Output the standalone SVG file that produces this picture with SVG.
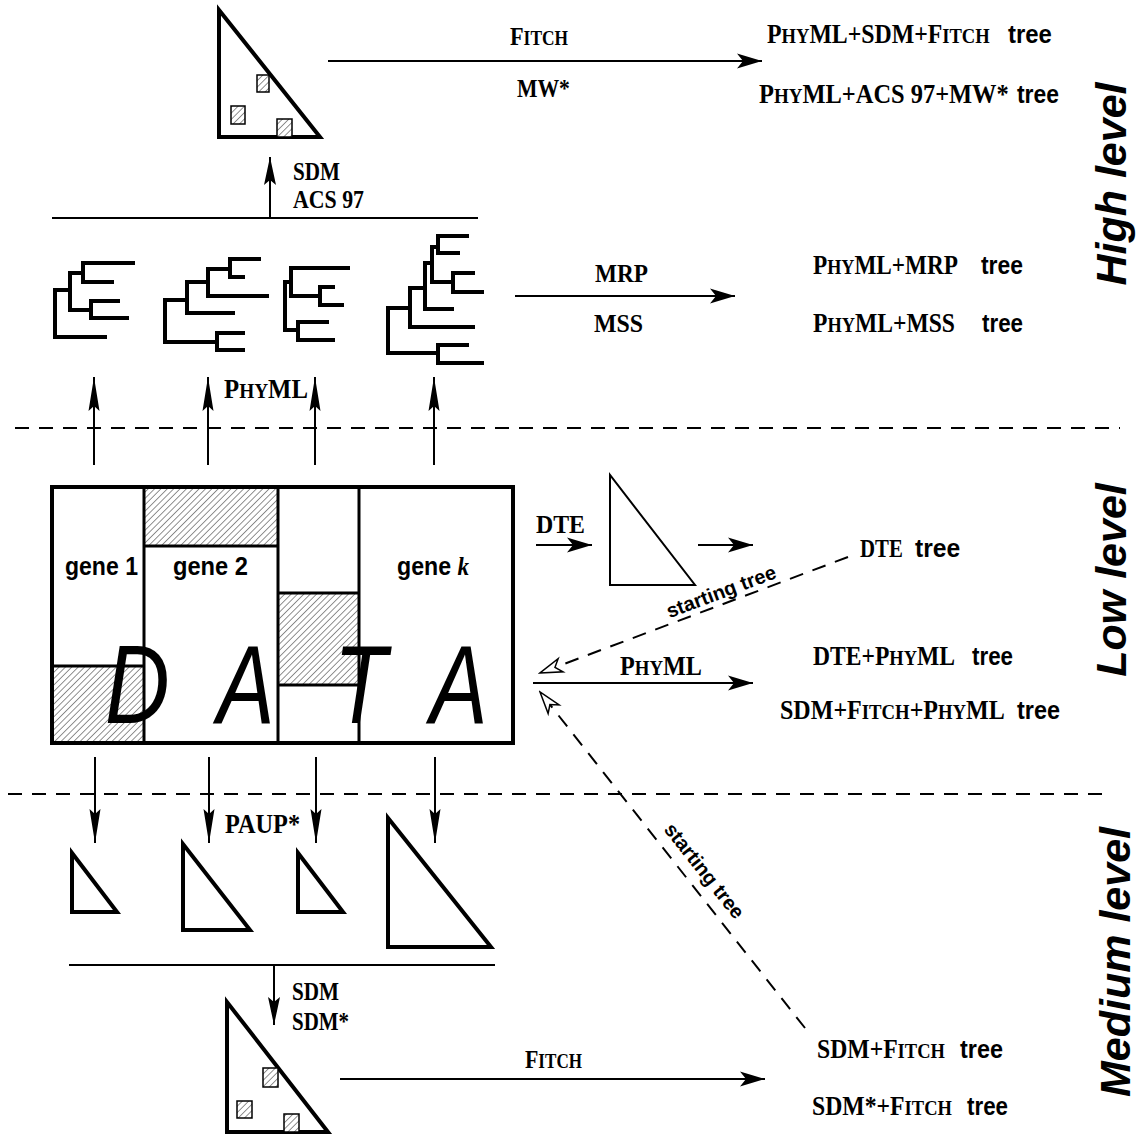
<svg xmlns="http://www.w3.org/2000/svg" width="1141" height="1135" viewBox="0 0 1141 1135">
<style>
.t{font-family:"Liberation Serif","Times New Roman",serif;font-weight:bold;fill:#000}
.h{font-family:"Liberation Sans",Arial,sans-serif;font-weight:bold;fill:#000}
.sc{font-size:78%}
.lv{font-family:"Liberation Sans",Arial,sans-serif;font-weight:bold;font-style:italic;font-size:43px;fill:#000}
.big{font-family:"Liberation Sans",Arial,sans-serif;font-style:italic;font-size:112px;fill:#000}
.ln{fill:none;stroke:#000;stroke-width:2}
.thick{fill:none;stroke:#000;stroke-width:4;stroke-linejoin:miter}
.tree{fill:none;stroke:#000;stroke-width:4;stroke-linecap:square;stroke-linejoin:miter}
.dash{fill:none;stroke:#000;stroke-width:2;stroke-dasharray:14 10}
.sq{fill:url(#hatch);stroke:#000;stroke-width:1.5}
</style>
<defs>
<pattern id="hatch" patternUnits="userSpaceOnUse" width="4.5" height="4.5" patternTransform="rotate(45)">
<rect width="4.5" height="4.5" fill="#fff"/>
<line x1="0" y1="0" x2="0" y2="4.5" stroke="#222" stroke-width="1"/>
</pattern>
<marker id="ah" viewBox="-28 -9 30 18" refX="0" refY="0" markerWidth="30" markerHeight="18" markerUnits="userSpaceOnUse" orient="auto">
<path d="M0,0 L-25,-7.5 L-19,0 L-25,7.5 Z" fill="#000"/>
</marker>
<marker id="av" viewBox="-36 -7 38 14" refX="0" refY="0" markerWidth="38" markerHeight="14" markerUnits="userSpaceOnUse" orient="auto">
<path d="M0,0 L-34,-5.5 L-29,0 L-34,5.5 Z" fill="#000"/>
</marker>
<marker id="av2" viewBox="-30 -8 32 16" refX="0" refY="0" markerWidth="32" markerHeight="16" markerUnits="userSpaceOnUse" orient="auto">
<path d="M0,0 L-28,-6 L-23,0 L-28,6 Z" fill="#000"/>
</marker>
<marker id="ao" viewBox="-26 -10 28 20" refX="0" refY="0" markerWidth="28" markerHeight="20" markerUnits="userSpaceOnUse" orient="auto">
<path d="M0,0 L-22,-7 L-16,0 L-22,7 Z" fill="#fff" stroke="#000" stroke-width="1.5" stroke-linejoin="miter"/>
</marker>
</defs>
<rect width="1141" height="1135" fill="#fff"/>

<g id="separators">
<path class="dash" d="M15,428 H1120"/>
<path class="dash" d="M8,794 H1110"/>
</g>

<g id="high-triangle">
<path class="thick" d="M219,10 V137 H320 Z"/>
<rect class="sq" x="257" y="75" width="12" height="17"/>
<rect class="sq" x="231" y="106" width="14" height="18"/>
<rect class="sq" x="277" y="119" width="15" height="18"/>
</g>

<g id="trees">
<path class="tree" d="M70,290 H55 V337 H105 M133,263 H83 V282 H112 M83,273 H70 V310 H91 M118,301 H91 V318 H127"/>
<path class="tree" d="M187,300 H165 V342 H217 M243,333 H217 V350 H243 M208,282 H187 V313 H233 M230,269 H208 V296 H267 M259,259 H230 V277 H243"/>
<path class="tree" d="M291,282 H285 V330 H298 M348,268 H291 V296 H320 M333,287 H320 V305 H342 M327,322 H298 V340 H333"/>
<path class="tree" d="M410,308 H388 V353 H438 M467,345 H438 V363 H482 M425,288 H410 V327 H473 M432,263 H425 V309 H452 M438,247 H432 V282 H453 M467,236 H438 V253 H458 M473,273 H453 V292 H482"/>
</g>

<g id="data">
<rect x="52" y="666" width="92" height="77" fill="url(#hatch)"/>
<rect x="144" y="487" width="134" height="59" fill="url(#hatch)"/>
<rect x="278" y="593" width="81" height="92" fill="url(#hatch)"/>
<text class="big" transform="translate(105,723) scale(0.8,1)">D</text>
<text class="big" transform="translate(217,723) scale(0.77,1)">A</text>
<text class="big" transform="translate(334,723) scale(0.77,1)">T</text>
<text class="big" transform="translate(430,723) scale(0.77,1)">A</text>
<path fill="none" stroke="#000" stroke-width="3" d="M144,487 V743 M278,487 V743 M359,487 V743 M52,666 H144 M144,546 H278 M278,593 H359 M278,685 H359"/>
<rect x="52" y="487" width="461" height="256" fill="none" stroke="#000" stroke-width="4"/>
<text class="h" font-size="26" transform="translate(65,575) scale(0.886,1)">gene 1</text>
<text class="h" font-size="26" transform="translate(173,575) scale(0.91,1)">gene 2</text>
<text class="h" font-size="26" transform="translate(397,575) scale(0.89,1)">gene <tspan font-family="Liberation Serif, serif" font-style="italic">k</tspan></text>
</g>

<g id="dte-triangle">
<path fill="none" stroke="#000" stroke-width="2" d="M610,475 V585 H695 Z"/>
</g>

<g id="small-triangles">
<path class="thick" d="M72,853 V912 H117 Z"/>
<path class="thick" d="M183,844 V930 H250 Z"/>
<path class="thick" d="M298,853 V912 H343 Z"/>
<path class="thick" d="M388,818 V947 H491 Z"/>
</g>

<g id="medium-triangle">
<path class="thick" d="M227,1002 V1132 H328 Z"/>
<rect class="sq" x="263" y="1068" width="15" height="19"/>
<rect class="sq" x="237" y="1101" width="15" height="17"/>
<rect class="sq" x="284" y="1114" width="15" height="18"/>
</g>

<g id="connectors">
<path class="ln" d="M328,61 H762" marker-end="url(#ah)"/>
<path class="ln" d="M52,218 H478"/>
<path class="ln" d="M270,218 V157" marker-end="url(#av2)"/>
<path class="ln" d="M515,296 H735" marker-end="url(#ah)"/>
<path class="ln" d="M94,465 V377" marker-end="url(#av)"/>
<path class="ln" d="M208,465 V377" marker-end="url(#av)"/>
<path class="ln" d="M315,465 V377" marker-end="url(#av)"/>
<path class="ln" d="M434,465 V377" marker-end="url(#av)"/>
<path class="ln" d="M536,545 H592" marker-end="url(#ah)"/>
<path class="ln" d="M698,545 H753" marker-end="url(#ah)"/>
<path class="ln" d="M533,683 H753" marker-end="url(#ah)"/>
<path class="dash" d="M848,557 L540,673" marker-end="url(#ao)" stroke-width="1.6"/>
<path class="dash" d="M805,1028 L540,692" marker-end="url(#ao)" stroke-width="1.6"/>
<path class="ln" d="M95,757 V843" marker-end="url(#av)"/>
<path class="ln" d="M209,757 V843" marker-end="url(#av)"/>
<path class="ln" d="M316,757 V843" marker-end="url(#av)"/>
<path class="ln" d="M435,757 V843" marker-end="url(#av)"/>
<path class="ln" d="M69,965 H495"/>
<path class="ln" d="M274,965 V1025" marker-end="url(#av2)"/>
<path class="ln" d="M340,1079 H765" marker-end="url(#ah)"/>
</g>

<g id="labels">
<text class="t" font-size="26" transform="translate(510,45) scale(0.857,1)">F<tspan class="sc">ITCH</tspan></text>
<text class="t" font-size="25" transform="translate(517,97) scale(0.867,1)">MW*</text>
<text class="t" font-size="27" transform="translate(767,43) scale(0.882,1)">P<tspan class="sc">HY</tspan>ML+SDM+F<tspan class="sc">ITCH</tspan></text>
<text class="h" font-size="26" transform="translate(1008,43) scale(0.92,1)">tree</text>
<text class="t" font-size="27" transform="translate(759,103) scale(0.905,1)">P<tspan class="sc">HY</tspan>ML+ACS 97+MW*</text>
<text class="h" font-size="26" transform="translate(1017,103) scale(0.88,1)">tree</text>
<text class="t" font-size="25" transform="translate(293,180) scale(0.846,1)">SDM</text>
<text class="t" font-size="25" transform="translate(293,208) scale(0.874,1)">ACS 97</text>
<text class="t" font-size="26" transform="translate(595,282) scale(0.895,1)">MRP</text>
<text class="t" font-size="26" transform="translate(594,332) scale(0.917,1)">MSS</text>
<text class="t" font-size="27" transform="translate(813,274) scale(0.861,1)">P<tspan class="sc">HY</tspan>ML+MRP</text>
<text class="h" font-size="26" transform="translate(981,274) scale(0.88,1)">tree</text>
<text class="t" font-size="27" transform="translate(813,332) scale(0.874,1)">P<tspan class="sc">HY</tspan>ML+MSS</text>
<text class="h" font-size="26" transform="translate(982,332) scale(0.86,1)">tree</text>
<text class="t" font-size="27" transform="translate(224,398) scale(0.917,1)">P<tspan class="sc">HY</tspan>ML</text>
<text class="t" font-size="26" transform="translate(536,533) scale(0.917,1)">DTE</text>
<text class="t" font-size="26" transform="translate(860,557) scale(0.80,1)">DTE</text>
<text class="h" font-size="26" transform="translate(915,557) scale(0.95,1)">tree</text>
<text class="t" font-size="27" transform="translate(620,675) scale(0.895,1)">P<tspan class="sc">HY</tspan>ML</text>
<text class="t" font-size="27" transform="translate(813,665) scale(0.874,1)">DTE+P<tspan class="sc">HY</tspan>ML</text>
<text class="h" font-size="26" transform="translate(972,665) scale(0.86,1)">tree</text>
<text class="t" font-size="27" transform="translate(780,719) scale(0.89,1)">SDM+F<tspan class="sc">ITCH</tspan>+P<tspan class="sc">HY</tspan>ML</text>
<text class="h" font-size="26" transform="translate(1017,719) scale(0.9,1)">tree</text>
<text class="h" font-size="20" text-anchor="middle" transform="translate(723.5,598) rotate(-20.6)">starting tree</text>
<text class="h" font-size="20" text-anchor="middle" transform="translate(699,875) rotate(51.7)">starting tree</text>
<text class="t" font-size="27" transform="translate(225,833) scale(0.9,1)">PAUP*</text>
<text class="t" font-size="25" transform="translate(292,1000) scale(0.846,1)">SDM</text>
<text class="t" font-size="25" transform="translate(292,1030) scale(0.838,1)">SDM*</text>
<text class="t" font-size="26" transform="translate(525,1068) scale(0.842,1)">F<tspan class="sc">ITCH</tspan></text>
<text class="t" font-size="27" transform="translate(817,1058) scale(0.878,1)">SDM+F<tspan class="sc">ITCH</tspan></text>
<text class="h" font-size="26" transform="translate(960,1058) scale(0.9,1)">tree</text>
<text class="t" font-size="27" transform="translate(812,1115) scale(0.879,1)">SDM*+F<tspan class="sc">ITCH</tspan></text>
<text class="h" font-size="26" transform="translate(967,1115) scale(0.86,1)">tree</text>
</g>

<g id="levels">
<text class="lv" text-anchor="middle" transform="translate(1126,184) rotate(-90)">High level</text>
<text class="lv" text-anchor="middle" transform="translate(1126,580) rotate(-90)">Low level</text>
<text class="lv" text-anchor="middle" transform="translate(1130,962) rotate(-90)">Medium level</text>
</g>
</svg>
